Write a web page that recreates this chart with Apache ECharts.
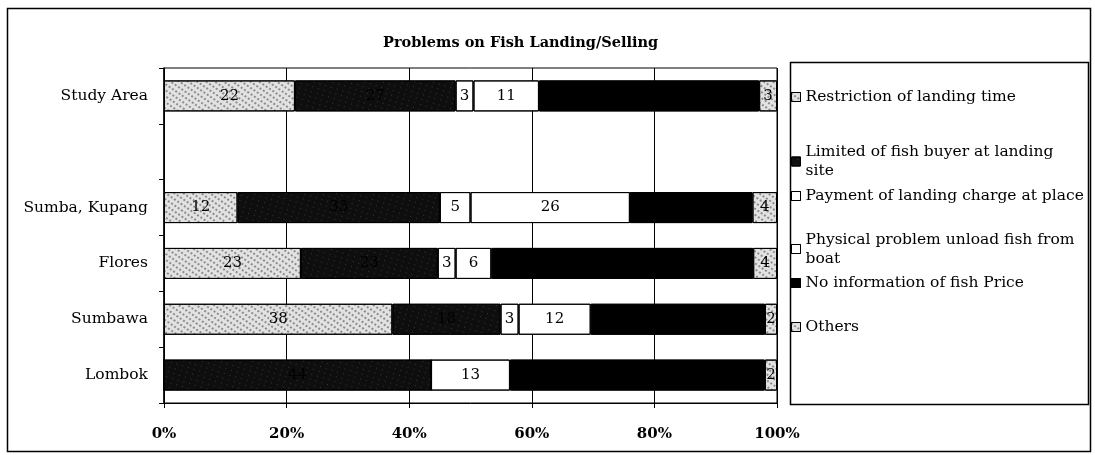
<!DOCTYPE html>
<html>
<head>
<meta charset="utf-8">
<script src="https://cdn.jsdelivr.net/npm/echarts@6/dist/echarts.min.js"></script>
<style>
  html, body { margin: 0; padding: 0; background: #fff; }
  #chart { width: 1095px; height: 455px; }
</style>
</head>
<body>
<div id="chart"></div>
<script>
// Landing sites, bottom to top; the empty slot separates the study-area total
const categories = ['Lombok', 'Sumbawa', 'Flores', 'Sumba, Kupang', '', 'Study Area'];

// Number of respondents naming each problem, per site
const restriction   = [0, 38, 23, 12, null, 22];
const limitedBuyer  = [44, 18, 23, 33, null, 27];
const landingCharge = [0, 3, 3, 5, null, 3];
const unloadProblem = [13, 12, 6, 26, null, 11];
const noPriceInfo   = [42, 29, 44, 20, null, 37];
const others        = [2, 2, 4, 4, null, 3];

const seriesNames = [
  'Restriction of landing time',
  'Limited of fish buyer at landing site',
  'Payment of landing charge at place',
  'Physical problem unload fish from boat',
  'No information of fish Price',
  'Others'
];
const legendText = {
  'Limited of fish buyer at landing site': 'Limited of fish buyer at landing\nsite',
  'Physical problem unload fish from boat': 'Physical problem unload fish from\nboat'
};
const xTicks = [0, 20, 40, 60, 80, 100];

const counts = [restriction, limitedBuyer, landingCharge, unloadProblem, noPriceInfo, others];

// Speckled pattern fills: light grey with dark dots, near-black with pale flecks
const noPattern = { symbol: 'rect', symbolSize: 1, color: 'rgba(0,0,0,0)',
                    dashArrayX: [4, 0], dashArrayY: [4, 0] };
const lightSpeckle = {
  color: '#e2e2e2',
  decal: { symbol: 'rect', symbolSize: 0.9, color: 'rgba(0,0,0,0.42)',
           dashArrayX: [2, 2], dashArrayY: [2, 3], rotation: 0.6 }
};
const darkSpeckle = {
  color: '#0e0e0e',
  decal: { symbol: 'rect', symbolSize: 0.8, color: 'rgba(255,255,255,0.22)',
           dashArrayX: [1, 5], dashArrayY: [1, 4], rotation: 0.3 }
};
const plainWhite = { color: '#ffffff', decal: noPattern };
const plainBlack = { color: '#000000', decal: noPattern };
const fills = [lightSpeckle, darkSpeckle, plainWhite, plainWhite, plainBlack, lightSpeckle];

// Row totals for the 100% stacking
const totals = categories.map((_, i) =>
  counts.reduce((s, arr) => s + (arr[i] == null ? 0 : arr[i]), 0));

const serif = 'DejaVu Serif';

const series = counts.map((arr, k) => ({
  name: seriesNames[k],
  type: 'bar',
  stack: 'share',
  barWidth: 31,
  itemStyle: {
    color: fills[k].color,
    decal: fills[k].decal,
    borderColor: '#000',
    borderWidth: 1
  },
  label: {
    show: true,
    position: 'inside',
    color: '#000',
    fontFamily: serif,
    fontSize: 15,
    formatter: p => (p.data.count ? String(p.data.count) : '')
  },
  emphasis: { disabled: true },
  data: arr.map((v, i) => (v == null ? null : { value: v / totals[i] * 100, count: v }))
}));

// One legend block per entry so each line sits where it should in the key box
const legendTops = [87.5, 142.5, 186.5, 230, 273.5, 317.5];
const legends = seriesNames.map((n, k) => ({
  data: [n],
  orient: 'vertical',
  left: 791,
  top: legendTops[k],
  padding: 0,
  icon: 'rect',
  itemWidth: 9,
  itemHeight: 9,
  itemStyle: { borderColor: '#000', borderWidth: 1 },
  selectedMode: false,
  formatter: name => legendText[name] || name,
  textStyle: { fontFamily: serif, fontSize: 15.5, color: '#000', lineHeight: 19 }
}));

const chart = echarts.init(document.getElementById('chart'), null, { renderer: 'canvas' });
chart.setOption({
  animation: false,
  backgroundColor: '#fff',
  aria: { enabled: true, decal: { show: true } },
  title: {
    text: 'Problems on Fish Landing/Selling',
    left: 378,
    top: 31,
    textStyle: { fontFamily: serif, fontSize: 14.5, fontWeight: 'bold', color: '#000' }
  },
  legend: legends,
  grid: {
    left: 164, right: 318, top: 68, bottom: 52,
    show: true, borderColor: '#000', borderWidth: 1, backgroundColor: 'transparent'
  },
  xAxis: {
    type: 'value',
    min: xTicks[0],
    max: xTicks[xTicks.length - 1],
    interval: 20,
    axisLine: { show: true, lineStyle: { color: '#000', width: 1 } },
    axisTick: { show: true, length: 5, lineStyle: { color: '#000' } },
    splitLine: { show: true, lineStyle: { color: '#000', width: 1 } },
    axisLabel: {
      formatter: '{value}%',
      color: '#000',
      fontFamily: serif,
      fontSize: 15,
      fontWeight: 'bold',
      margin: 24
    }
  },
  yAxis: {
    type: 'category',
    data: categories,
    axisLine: { show: true, lineStyle: { color: '#000', width: 1.5 } },
    axisTick: { show: true, length: 5, lineStyle: { color: '#000' } },
    axisLabel: { color: '#000', fontFamily: serif, fontSize: 15.5, margin: 16 }
  },
  graphic: [
    {
      type: 'rect',
      shape: { x: 7.5, y: 8.5, width: 1083, height: 443 },
      style: { fill: 'none', stroke: '#000', lineWidth: 1.5 },
      silent: true, z: -1
    },
    {
      type: 'rect',
      shape: { x: 790.5, y: 62.5, width: 298, height: 342 },
      style: { fill: 'none', stroke: '#000', lineWidth: 1.5 },
      silent: true, z: -1
    }
  ],
  series: series
});
</script>
</body>
</html>
